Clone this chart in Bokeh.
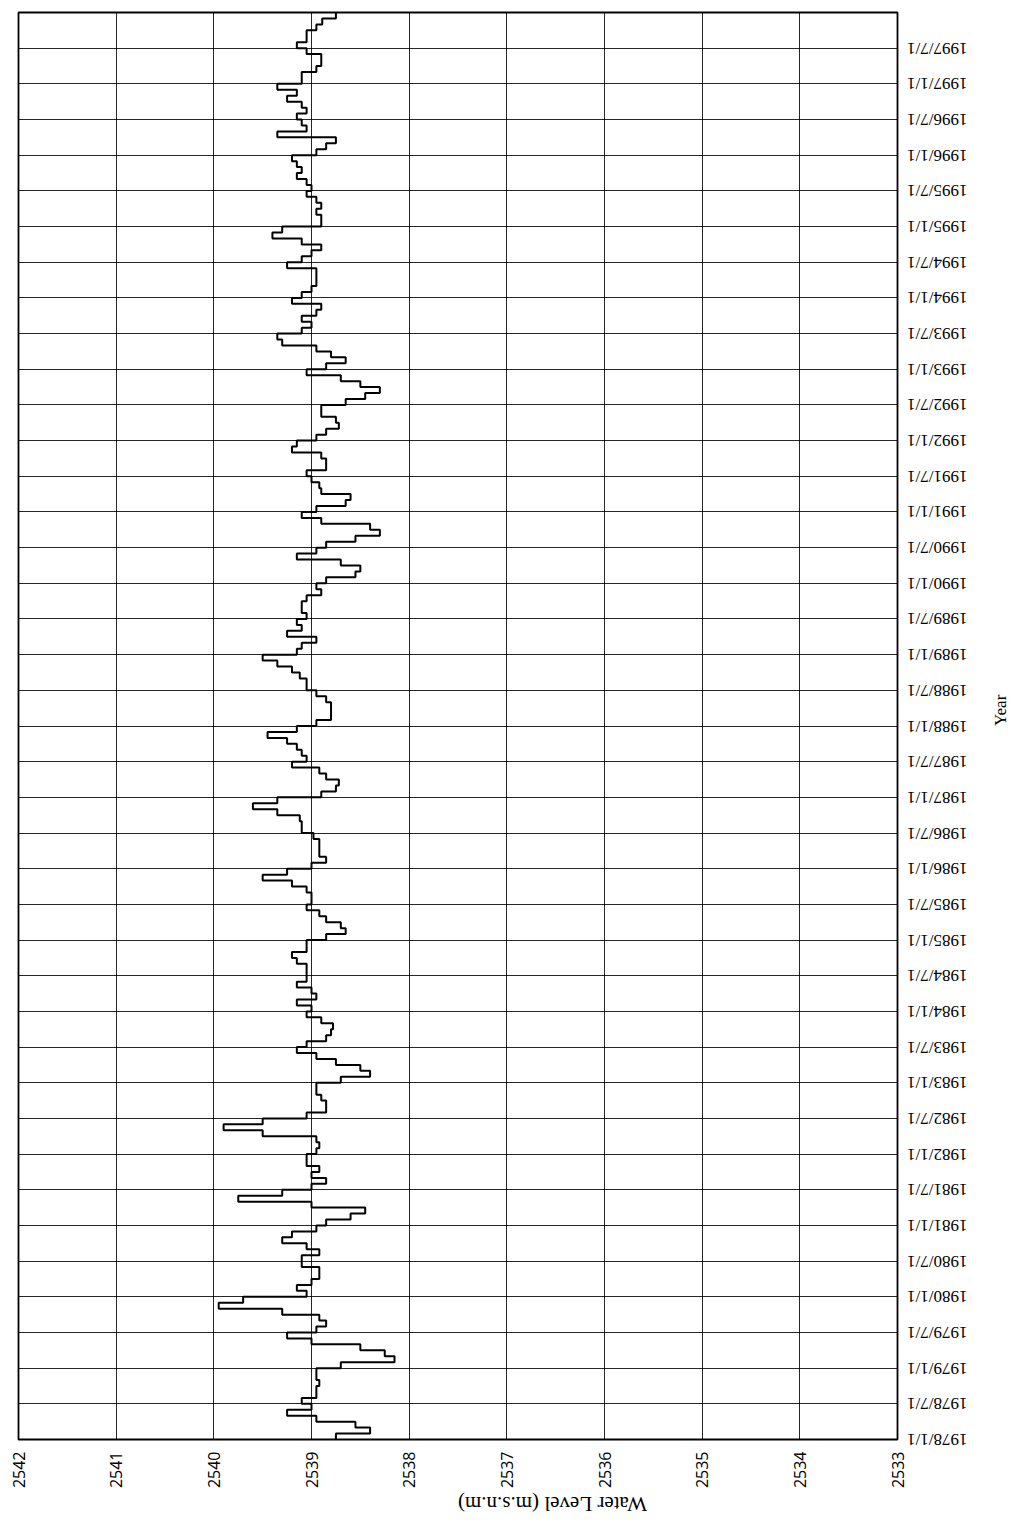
import math
import numpy as np
from bokeh.plotting import figure
from bokeh.models import Range1d, FixedTicker
from bokeh.embed import file_html
from bokeh.resources import INLINE

# Monthly water level (m.s.n.m), January..December of each year
level_1978 = [2538.75, 2538.40, 2538.55, 2538.95, 2539.25, 2539.00, 2539.10, 2538.95, 2538.95, 2538.92, 2538.95, 2538.95]
level_1979 = [2538.70, 2538.15, 2538.25, 2538.50, 2539.00, 2539.25, 2538.95, 2538.85, 2538.92, 2539.30, 2539.95, 2539.70]
level_1980 = [2539.05, 2539.15, 2539.00, 2538.92, 2538.92, 2539.10, 2539.10, 2538.92, 2539.05, 2539.30, 2539.20, 2538.95]
level_1981 = [2538.85, 2538.60, 2538.45, 2539.00, 2539.75, 2539.30, 2539.00, 2538.85, 2539.00, 2538.92, 2539.05, 2539.05]
level_1982 = [2538.95, 2538.92, 2538.95, 2539.50, 2539.90, 2539.50, 2539.05, 2538.85, 2538.85, 2538.90, 2538.95, 2538.95]
level_1983 = [2538.70, 2538.40, 2538.50, 2538.75, 2538.95, 2539.15, 2539.05, 2538.85, 2538.80, 2538.78, 2538.90, 2539.05]
level_1984 = [2539.00, 2539.15, 2538.95, 2539.00, 2539.15, 2539.05, 2539.05, 2539.05, 2539.15, 2539.20, 2539.05, 2539.05]
level_1985 = [2538.85, 2538.65, 2538.70, 2538.85, 2538.92, 2539.05, 2539.00, 2539.00, 2539.05, 2539.20, 2539.50, 2539.25]
level_1986 = [2539.00, 2538.85, 2538.92, 2538.92, 2538.92, 2538.98, 2539.10, 2539.10, 2539.12, 2539.35, 2539.60, 2539.35]
level_1987 = [2538.90, 2538.75, 2538.72, 2538.85, 2538.92, 2539.20, 2539.05, 2539.10, 2539.15, 2539.25, 2539.45, 2539.15]
level_1988 = [2538.95, 2538.80, 2538.80, 2538.80, 2538.85, 2538.95, 2539.05, 2539.05, 2539.12, 2539.20, 2539.35, 2539.50]
level_1989 = [2539.15, 2539.10, 2538.95, 2539.25, 2539.10, 2539.15, 2539.05, 2539.10, 2539.10, 2539.05, 2538.90, 2538.95]
level_1990 = [2538.85, 2538.55, 2538.50, 2538.70, 2539.15, 2538.95, 2538.85, 2538.55, 2538.30, 2538.40, 2538.90, 2539.10]
level_1991 = [2538.95, 2538.65, 2538.60, 2538.90, 2538.92, 2539.00, 2539.05, 2538.85, 2538.85, 2538.90, 2539.20, 2539.15]
level_1992 = [2538.95, 2538.85, 2538.72, 2538.75, 2538.90, 2538.90, 2538.65, 2538.45, 2538.30, 2538.50, 2538.70, 2539.05]
level_1993 = [2538.85, 2538.65, 2538.80, 2538.95, 2539.30, 2539.35, 2539.10, 2539.00, 2539.10, 2538.95, 2538.90, 2539.20]
level_1994 = [2539.10, 2539.00, 2538.95, 2538.95, 2538.95, 2539.25, 2539.10, 2539.00, 2538.90, 2539.10, 2539.40, 2539.30]
level_1995 = [2538.90, 2538.90, 2538.95, 2538.90, 2538.95, 2539.05, 2539.00, 2539.05, 2539.15, 2539.10, 2539.15, 2539.20]
level_1996 = [2538.95, 2538.85, 2538.75, 2539.35, 2539.05, 2539.10, 2539.15, 2539.05, 2539.10, 2539.25, 2539.15, 2539.35]
level_1997 = [2539.10, 2539.10, 2538.95, 2538.90, 2538.90, 2539.05, 2539.15, 2539.05, 2539.05, 2538.95, 2538.89, 2538.75]

date_labels = [
    "1978/1/1", "1978/7/1", "1979/1/1", "1979/7/1", "1980/1/1", "1980/7/1",
    "1981/1/1", "1981/7/1", "1982/1/1", "1982/7/1", "1983/1/1", "1983/7/1",
    "1984/1/1", "1984/7/1", "1985/1/1", "1985/7/1", "1986/1/1", "1986/7/1",
    "1987/1/1", "1987/7/1", "1988/1/1", "1988/7/1", "1989/1/1", "1989/7/1",
    "1990/1/1", "1990/7/1", "1991/1/1", "1991/7/1", "1992/1/1", "1992/7/1",
    "1993/1/1", "1993/7/1", "1994/1/1", "1994/7/1", "1995/1/1", "1995/7/1",
    "1996/1/1", "1996/7/1", "1997/1/1", "1997/7/1",
]
level_ticks = [2533, 2534, 2535, 2536, 2537, 2538, 2539, 2540, 2541, 2542]

values = np.array(
    level_1978 + level_1979 + level_1980 + level_1981 + level_1982 +
    level_1983 + level_1984 + level_1985 + level_1986 + level_1987 +
    level_1988 + level_1989 + level_1990 + level_1991 + level_1992 +
    level_1993 + level_1994 + level_1995 + level_1996 + level_1997
)
n_months = len(values)
months = np.arange(n_months)

# monthly steps along the (vertical) time axis
xs = np.repeat(values, 2)
ys = np.column_stack([months, months + 1]).ravel()

p = figure(
    width=1026, height=1531,
    x_range=Range1d(2542, 2533), y_range=Range1d(0, n_months),
    output_backend="svg", toolbar_location=None,
    x_axis_location="below", y_axis_location="right",
    min_border_left=18, min_border_top=12, min_border_right=129, min_border_bottom=91,
    background_fill_color="white", border_fill_color="white",
)
p.outline_line_color = "black"
p.outline_line_width = 1.8

p.line(xs, ys, line_color="black", line_width=2)

# x axis (water level)
xa = p.xaxis[0]
xa.ticker = FixedTicker(ticks=level_ticks)
xa.major_label_orientation = math.pi / 2
xa.major_label_text_font = "Open Sans"
xa.major_label_text_font_size = "16px"
xa.major_label_text_color = "black"
xa.major_label_standoff = 12
xa.major_tick_out = 0
xa.major_tick_in = 0
xa.minor_tick_out = 0
xa.minor_tick_in = 0
xa.axis_line_color = None
xa.axis_label = "Water Level (m.s.n.m)"
xa.axis_label_text_font = "Liberation Serif"
xa.axis_label_text_font_size = "21px"
xa.axis_label_text_font_style = "normal"
xa.axis_label_text_color = "black"
xa.axis_label_standoff = 13

# y axis (dates)
tick_pos = [6 * i for i in range(len(date_labels))]
ya = p.yaxis[0]
ya.ticker = FixedTicker(ticks=tick_pos)
ya.major_label_overrides = {t: lbl for t, lbl in zip(tick_pos, date_labels)}
ya.major_label_orientation = math.pi
ya.major_label_text_font = "Liberation Serif"
ya.major_label_text_font_size = "17px"
ya.major_label_text_color = "black"
ya.major_label_standoff = 70
ya.major_tick_out = 0
ya.major_tick_in = 0
ya.minor_tick_out = 0
ya.minor_tick_in = 0
ya.axis_line_color = None
ya.axis_label = "Year"
ya.axis_label_text_font = "Liberation Serif"
ya.axis_label_text_font_size = "17px"
ya.axis_label_text_font_style = "normal"
ya.axis_label_text_color = "black"
ya.axis_label_standoff = -30

if "axis_label_orientation" in xa.properties():
    xa.axis_label_orientation = math.pi
    ya.axis_label_orientation = math.pi / 2

p.xgrid.ticker = FixedTicker(ticks=level_ticks)
p.ygrid.ticker = FixedTicker(ticks=tick_pos)
for g in (p.xgrid, p.ygrid):
    g.grid_line_color = "black"
    g.grid_line_width = 1
    g.grid_line_alpha = 0.85

open("out.html", "w").write(file_html(p, INLINE))
